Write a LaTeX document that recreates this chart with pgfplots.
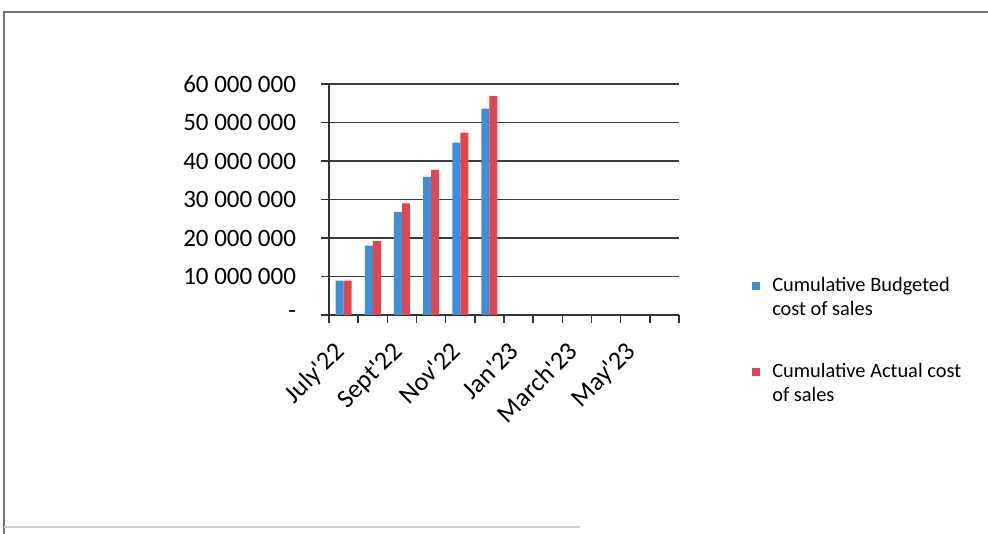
\documentclass[border=0pt]{standalone}
\usepackage{pgfplots}
\pgfplotsset{compat=1.18}
\usepackage{fontspec}
\setmainfont{Carlito}[Ligatures=TeXOff]
\definecolor{bblue}{HTML}{3E8FD8}
\definecolor{rred}{HTML}{E0464F}
\definecolor{gridc}{HTML}{3A3A3A}
\begin{document}
\begin{tikzpicture}[x=1pt,y=1pt]
\useasboundingbox (0,0) rectangle (494,267);
\draw[black!55, line width=1pt] (494,261) -- (2,261) -- (2,0);
\draw[black!20, line width=0.6pt] (2,3.5) -- (290,3.5);
\begin{axis}[
  at={(164.5pt,109.5pt)}, anchor=south west,
  scale only axis, width=175pt, height=115.5pt,
  xmin=-0.5, xmax=11.5, ymin=0, ymax=60000000,
  scaled y ticks=false,
  axis x line*=bottom, axis y line*=left,
  axis line style={-, black!80, line width=0.8pt},
  ytick={0,10000000,20000000,30000000,40000000,50000000,60000000},
  yticklabels={-,10 000 000,20 000 000,30 000 000,40 000 000,50 000 000,60 000 000},
  ymajorgrids, grid style={gridc, line width=0.9pt},
  tick align=outside, major tick length=4pt, minor tick length=4pt,
  tick style={black!80, line width=0.8pt},
  xtick={0,2,4,6,8,10},
  xticklabels={July'22,Sept'22,Nov'22,Jan'23,March'23,May'23},
  major x tick style={draw=none},
  minor xtick={-0.5,0.5,...,11.5},
  yticklabel style={font=\fontsize{12.5}{14}\selectfont, xshift=-9pt},
  xticklabel style={font=\fontsize{13}{15}\selectfont, anchor=north east, inner sep=0pt, xshift=-5.5pt, yshift=-8.5pt, rotate=45},
  legend style={at={(1.191,0.20)}, anchor=north west, draw=none,
    font=\fontsize{10.2}{12.3}\selectfont, row sep=18pt,
    cells={anchor=west, align=left}},
  legend image code/.code={\fill[#1] (0pt,4pt) rectangle (4pt,8pt); \path[draw=none,fill=none] (0pt,0pt) rectangle (8pt,1pt);},
]
\addplot[ybar, bar width=4pt, bar shift=-2pt, fill=bblue, draw=none] coordinates {
  (0,8900000) (1,18000000) (2,26800000) (3,35900000) (4,44800000) (5,53600000)};
\addlegendentry{Cumulative Budgeted\\cost of sales}
\addplot[ybar, bar width=4pt, bar shift=2pt, fill=rred, draw=none] coordinates {
  (0,8900000) (1,19200000) (2,29000000) (3,37700000) (4,47400000) (5,56900000)};
\addlegendentry{Cumulative Actual cost\\of sales}
\end{axis}
\end{tikzpicture}
\end{document}
